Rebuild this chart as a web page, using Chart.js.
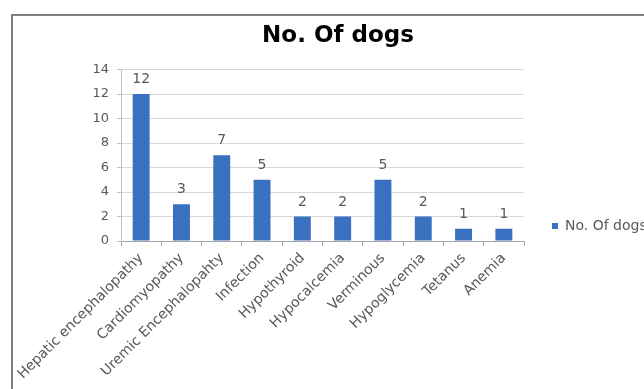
<!DOCTYPE html>
<html>
<head>
<meta charset="utf-8">
<script src="https://cdn.jsdelivr.net/npm/chart.js@4"></script>
<style>
  html, body { margin: 0; padding: 0; background: #fff; overflow: hidden; }
  #wrap { position: relative; width: 644px; height: 389px; }
</style>
</head>
<body>
<div id="wrap"><canvas id="chart"></canvas></div>
<script>
const categories = ['Hepatic encephalopathy', 'Cardiomyopathy', 'Uremic Encephalopahty', 'Infection',
  'Hypothyroid', 'Hypocalcemia', 'Verminous', 'Hypoglycemia', 'Tetanus', 'Anemia'];
const dogs = [12, 3, 7, 5, 2, 2, 5, 2, 1, 1];
const seriesName = 'No. Of dogs';

const font = '"DejaVu Sans", sans-serif';

// grey frame at the top and left, as in the pasted picture
const frame = {
  id: 'frame',
  beforeDraw(chart) {
    const ctx = chart.ctx;
    ctx.save();
    ctx.fillStyle = '#7f7f7f';
    ctx.fillRect(11, 14, 2, chart.height - 14);
    ctx.fillRect(11, 14, chart.width - 11, 2);
    ctx.restore();
  }
};

// numbers above the bars
const valueLabels = {
  id: 'valueLabels',
  afterDatasetsDraw(chart) {
    const ctx = chart.ctx;
    const meta = chart.getDatasetMeta(0);
    ctx.save();
    ctx.font = '14px ' + font;
    ctx.fillStyle = '#595959';
    ctx.textAlign = 'center';
    ctx.textBaseline = 'alphabetic';
    meta.data.forEach((bar, i) => {
      ctx.fillText(dogs[i], bar.x, bar.y - 11);
    });
    ctx.restore();
  }
};

new Chart(document.getElementById('chart'), {
  type: 'bar',
  data: {
    labels: categories,
    datasets: [{
      label: seriesName,
      data: dogs,
      backgroundColor: '#3a70c0',
      borderWidth: 0,
      categoryPercentage: 1,
      barPercentage: 0.42
    }]
  },
  options: {
    responsive: true,
    maintainAspectRatio: false,
    animation: false,
    layout: { padding: { left: 32, right: 0, top: 0, bottom: 0 } },
    plugins: {
      title: {
        display: true,
        text: 'No. Of dogs',
        color: '#000',
        font: { family: font, size: 23, weight: 'bold' },
        padding: { top: 22, bottom: 20 }
      },
      legend: {
        position: 'right',
        align: 'end',
        fullSize: false,
        maxWidth: 100,
        labels: {
          boxWidth: 6,
          boxHeight: 6,
          padding: 8,
          color: '#595959',
          font: { family: font, size: 14 }
        }
      },
      tooltip: { enabled: false }
    },
    scales: {
      x: {
        grid: { display: true, drawOnChartArea: false, drawTicks: true, tickLength: 5, color: '#a6a6a6', offset: true },
        border: { color: '#a6a6a6' },
        ticks: {
          color: '#595959',
          font: { family: font, size: 14 },
          minRotation: 45,
          maxRotation: 45,
          autoSkip: false,
          padding: 4
        },
        afterFit(scale) { scale.height = 148; }
      },
      y: {
        min: 0,
        max: 14,
        ticks: { stepSize: 2, color: '#595959', font: { family: font, size: 13 }, padding: 8 },
        grid: { color: '#d9d9d9', tickLength: 4, tickColor: '#bfbfbf' },
        border: { color: '#bfbfbf' },
        afterFit(scale) { scale.width = 89; }
      },
      gap: {
        axis: 'y',
        position: 'right',
        display: true,
        grid: { display: false },
        border: { display: false },
        ticks: { display: false },
        afterFit(scale) { scale.width = 20; }
      }
    }
  },
  plugins: [frame, valueLabels]
});
</script>
</body>
</html>
